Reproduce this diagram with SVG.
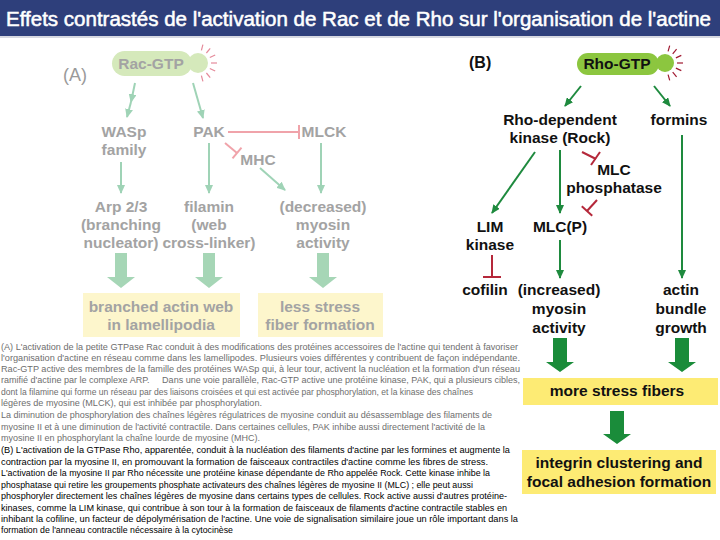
<svg xmlns="http://www.w3.org/2000/svg" width="720" height="540" viewBox="0 0 720 540">
<defs>
<marker id="ma" markerWidth="9" markerHeight="8" refX="8" refY="4" orient="auto" markerUnits="userSpaceOnUse"><path d="M0,0 L9,4 L0,8 Z" fill="#9fd3b6"/></marker>
<marker id="mb" markerWidth="9" markerHeight="8" refX="8" refY="4" orient="auto" markerUnits="userSpaceOnUse"><path d="M0,0 L9,4 L0,8 Z" fill="#1e8a3e"/></marker>
<style>
.la{font-family:"Liberation Sans",Arial,sans-serif;font-weight:bold;font-size:15.5px;fill:#a3a3a3;text-anchor:middle}
.lb{font-family:"Liberation Sans",Arial,sans-serif;font-weight:bold;font-size:15.5px;fill:#111;text-anchor:middle}
.ca{stroke:#9fd3b6;stroke-width:2;fill:none}
.cb{stroke:#1e8a3e;stroke-width:2;fill:none}
.ia{stroke:#f0a3aa;stroke-width:2;fill:none}
.ib{stroke:#b5283a;stroke-width:2;fill:none}
.ra{stroke:#e58a9a;stroke-width:1.2}
.rb{stroke:#a01830;stroke-width:1.2}
.p{font-family:"Liberation Sans",Arial,sans-serif;font-size:9.3px}
.pa{fill:#6e6e6e}
.pb{fill:#000}
</style>
</defs>
<rect width="720" height="540" fill="#fff"/>
<g id="title">
<rect x="0" y="0" width="720" height="36" fill="#2e3f7b"/>
<line x1="0" y1="37" x2="720" y2="37" stroke="#c9cbd6" stroke-width="1.5"/>
<text x="6" y="26" font-family="Liberation Sans,Arial,sans-serif" font-size="19.5" fill="#fff" stroke="#fff" stroke-width="0.5" textLength="705" lengthAdjust="spacingAndGlyphs">Effets contrastés de l'activation de Rac et de Rho sur l'organisation de l'actine</text>
</g>

<g id="connectors">
<line class="ca" x1="135" y1="83" x2="131" y2="102" marker-end="url(#ma)"/>
<line class="ca" x1="131" y1="102" x2="127" y2="117" marker-end="url(#ma)"/>
<line class="ca" x1="193" y1="83" x2="203" y2="118" marker-end="url(#ma)"/>
<line class="ia" x1="228" y1="132" x2="299" y2="132"/>
<line class="ia" x1="299" y1="125" x2="299" y2="139"/>
<line class="ia" x1="225" y1="143" x2="237" y2="153"/>
<line class="ia" x1="232.5" y1="158.4" x2="241.5" y2="147.6"/>
<line class="ca" x1="121" y1="162" x2="121" y2="193" marker-end="url(#ma)"/>
<line class="ca" x1="209" y1="143" x2="209" y2="193" marker-end="url(#ma)"/>
<line class="ca" x1="260" y1="168" x2="285" y2="190" marker-end="url(#ma)"/>
<line class="ca" x1="321" y1="143" x2="321" y2="193" marker-end="url(#ma)"/>
<g fill="#a6d6b6">
<polygon points="115,253 127,253 127,277 135,277 121,288 107,277 115,277"/>
<polygon points="203,253 215,253 215,277 223,277 209,288 195,277 203,277"/>
<polygon points="317,253 329,253 329,277 337,277 323,288 309,277 317,277"/>
</g>
<line class="cb" x1="581" y1="86" x2="565" y2="106" marker-end="url(#mb)"/>
<line class="cb" x1="654" y1="86" x2="670" y2="106" marker-end="url(#mb)"/>
<line class="cb" x1="535" y1="152" x2="492" y2="213" marker-end="url(#mb)"/>
<line class="cb" x1="560" y1="150" x2="560" y2="213" marker-end="url(#mb)"/>
<line class="ib" x1="582" y1="152" x2="596" y2="159"/>
<line class="ib" x1="591" y1="165" x2="600" y2="152"/>
<line class="ib" x1="597" y1="200" x2="587" y2="211"/>
<line class="ib" x1="581.8" y1="206.3" x2="592.2" y2="215.7"/>
<line class="ib" x1="492" y1="255" x2="492" y2="277"/>
<line class="ib" x1="483" y1="277" x2="501" y2="277"/>
<line class="cb" x1="560" y1="240" x2="560" y2="278" marker-end="url(#mb)"/>
<line class="cb" x1="682" y1="135" x2="682" y2="278" marker-end="url(#mb)"/>
<g fill="#1a8c3a">
<polygon points="553,338 567,338 567,362 574,362 560,372 546,362 553,362"/>
<polygon points="675,338 689,338 689,362 696,362 682,372 668,362 675,362"/>
<polygon points="610,411 624,411 624,434 631,434 617,444 603,434 610,434"/>
</g>
</g>

<g id="labelA"><text x="63" y="81" font-family="Liberation Sans,Arial,sans-serif" font-size="18" fill="#9a9a9a">(A)</text></g>
<g id="racgtp">
<rect x="112" y="51" width="80" height="25" rx="12.5" fill="#d5e9bb"/>
<circle cx="198" cy="63" r="10" fill="#d5e9bb"/>
<g class="ra">
<line x1="201.4" y1="50.4" x2="202.9" y2="44.6"/><line x1="206.4" y1="53" x2="210.2" y2="48.4"/><line x1="209.8" y1="57.5" x2="215.2" y2="55"/><line x1="211" y1="63" x2="217" y2="63"/><line x1="209.8" y1="68.5" x2="215.2" y2="71"/><line x1="206.4" y1="73" x2="210.2" y2="77.6"/><line x1="201.4" y1="75.6" x2="202.9" y2="81.4"/>
</g>
<text class="la" x="151" y="69">Rac-GTP</text>
</g>
<g id="wasp"><text class="la" x="124" y="137">WASp</text><text class="la" x="124" y="155">family</text></g>
<g id="pak"><text class="la" x="209" y="137">PAK</text></g>
<g id="mlck"><text class="la" x="324" y="137">MLCK</text></g>
<g id="mhc"><text class="la" x="258" y="165">MHC</text></g>
<g id="arp"><text class="la" x="121" y="212">Arp 2/3</text><text class="la" x="121" y="230">(branching</text><text class="la" x="121" y="248">nucleator)</text></g>
<g id="filamin"><text class="la" x="209" y="212">filamin</text><text class="la" x="209" y="230">(web</text><text class="la" x="209" y="248">cross-linker)</text></g>
<g id="myosinA"><text class="la" x="323" y="212">(decreased)</text><text class="la" x="323" y="230">myosin</text><text class="la" x="323" y="248">activity</text></g>
<g id="branched"><rect x="83" y="293" width="157" height="44" fill="#fdf6cc"/><text class="la" x="161" y="312">branched actin web</text><text class="la" x="161" y="330">in lamellipodia</text></g>
<g id="lessstress"><rect x="258" y="293" width="125" height="44" fill="#fdf6cc"/><text class="la" x="320" y="312">less stress</text><text class="la" x="320" y="330">fiber formation</text></g>

<g id="labelB"><text x="469" y="68" font-family="Liberation Sans,Arial,sans-serif" font-weight="bold" font-size="16" fill="#111">(B)</text></g>
<g id="rhogtp">
<rect x="577" y="53" width="82" height="22" rx="11" fill="#8cc63f"/>
<circle cx="665" cy="63" r="9" fill="#8cc63f"/>
<g class="rb">
<line x1="668.1" y1="51.4" x2="669.7" y2="45.6"/><line x1="672.7" y1="53.8" x2="676.6" y2="49.2"/><line x1="675.9" y1="57.9" x2="681.3" y2="55.4"/><line x1="677" y1="63" x2="683" y2="63"/><line x1="675.9" y1="68.1" x2="681.3" y2="70.6"/><line x1="672.7" y1="72.2" x2="676.6" y2="76.8"/><line x1="668.1" y1="74.6" x2="669.7" y2="80.4"/>
</g>
<text class="lb" x="617" y="69">Rho-GTP</text>
</g>
<g id="rock"><text class="lb" x="560" y="125">Rho-dependent</text><text class="lb" x="560" y="143">kinase (Rock)</text></g>
<g id="formins"><text class="lb" x="679" y="125">formins</text></g>
<g id="mlcp"><text class="lb" x="614" y="175">MLC</text><text class="lb" x="614" y="193">phosphatase</text></g>
<g id="lim"><text class="lb" x="490" y="232">LIM</text><text class="lb" x="490" y="250">kinase</text></g>
<g id="mlcP"><text class="lb" x="560" y="232">MLC(P)</text></g>
<g id="cofilin"><text class="lb" x="485" y="295">cofilin</text></g>
<g id="myosinB"><text class="lb" x="559" y="295">(increased)</text><text class="lb" x="559" y="314">myosin</text><text class="lb" x="559" y="333">activity</text></g>
<g id="bundle"><text class="lb" x="681" y="295">actin</text><text class="lb" x="681" y="314">bundle</text><text class="lb" x="681" y="333">growth</text></g>
<g id="morestress"><rect x="523" y="378" width="195" height="27" fill="#fdeb74"/><text class="lb" x="617" y="396" font-size="17">more stress fibers</text></g>
<g id="integrin"><rect x="522" y="450" width="194" height="44" fill="#fdeb74"/><text class="lb" x="619" y="468" font-size="16.5">integrin clustering and</text><text class="lb" x="619" y="487" font-size="16.5">focal adhesion formation</text></g>

<g id="caption" class="p">
<text class="pa" x="1" y="350" textLength="517" lengthAdjust="spacingAndGlyphs">(A) L'activation de la petite GTPase Rac conduit à des modifications des protéines accessoires de l'actine qui tendent à favoriser</text>
<text class="pa" x="1" y="361" textLength="519" lengthAdjust="spacingAndGlyphs">l'organisation d'actine en réseau comme dans les lamellipodes. Plusieurs voies différentes y contribuent de façon indépendante.</text>
<text class="pa" x="1" y="372" textLength="519" lengthAdjust="spacingAndGlyphs">Rac-GTP active des membres de la famille des protéines WASp qui, à leur tour, activent la nucléation et la formation d'un réseau</text>
<text class="pa" x="1" y="383" textLength="519" lengthAdjust="spacingAndGlyphs" xml:space="preserve">ramifié d'actine par le complexe ARP.     Dans une voie parallèle, Rac-GTP active une protéine kinase, PAK, qui a plusieurs cibles,</text>
<text class="pa" x="1" y="395" textLength="472" lengthAdjust="spacingAndGlyphs">dont la filamine qui forme un réseau par des liaisons croisées et qui est activée par phosphorylation, et la kinase des chaînes</text>
<text class="pa" x="1" y="406" textLength="261" lengthAdjust="spacingAndGlyphs">légères de myosine (MLCK), qui est inhibée par phosphorylation.</text>
<text class="pa" x="1" y="418" textLength="491" lengthAdjust="spacingAndGlyphs">La diminution de phosphorylation des chaînes légères régulatrices de myosine conduit au désassemblage des filaments de</text>
<text class="pa" x="1" y="430" textLength="484" lengthAdjust="spacingAndGlyphs">myosine II et à une diminution de l'activité contractile. Dans certaines cellules, PAK inhibe aussi directement l'activité de la</text>
<text class="pa" x="1" y="441" textLength="259" lengthAdjust="spacingAndGlyphs">myosine II en phosphorylant la chaîne lourde de myosine (MHC).</text>
<text class="pb" x="1" y="453" textLength="509" lengthAdjust="spacingAndGlyphs">(B) L'activation de la GTPase Rho, apparentée, conduit à la nucléation des filaments d'actine par les formines et augmente la</text>
<text class="pb" x="1" y="465" textLength="487" lengthAdjust="spacingAndGlyphs">contraction par la myosine II, en promouvant la formation de faisceaux contractiles d'actine comme les fibres de stress.</text>
<text class="pb" x="1" y="476" textLength="489" lengthAdjust="spacingAndGlyphs">L'activation de la myosine II par Rho nécessite une protéine kinase dépendante de Rho appelée Rock. Cette kinase inhibe la</text>
<text class="pb" x="1" y="488" textLength="472" lengthAdjust="spacingAndGlyphs">phosphatase qui retire les groupements phosphate activateurs des chaînes légères de myosine II (MLC) ; elle peut aussi</text>
<text class="pb" x="1" y="499" textLength="506" lengthAdjust="spacingAndGlyphs">phosphoryler directement les chaînes légères de myosine dans certains types de cellules. Rock active aussi d'autres protéine-</text>
<text class="pb" x="1" y="511" textLength="506" lengthAdjust="spacingAndGlyphs">kinases, comme la LIM kinase, qui contribue à son tour à la formation de faisceaux de filaments d'actine contractile stables en</text>
<text class="pb" x="1" y="522" textLength="517" lengthAdjust="spacingAndGlyphs">inhibant la cofiline, un facteur de dépolymérisation de l'actine. Une voie de signalisation similaire joue un rôle important dans la</text>
<text class="pb" x="1" y="533" textLength="232" lengthAdjust="spacingAndGlyphs">formation de l'anneau contractile nécessaire à la cytocinèse</text>
</g>
</svg>
